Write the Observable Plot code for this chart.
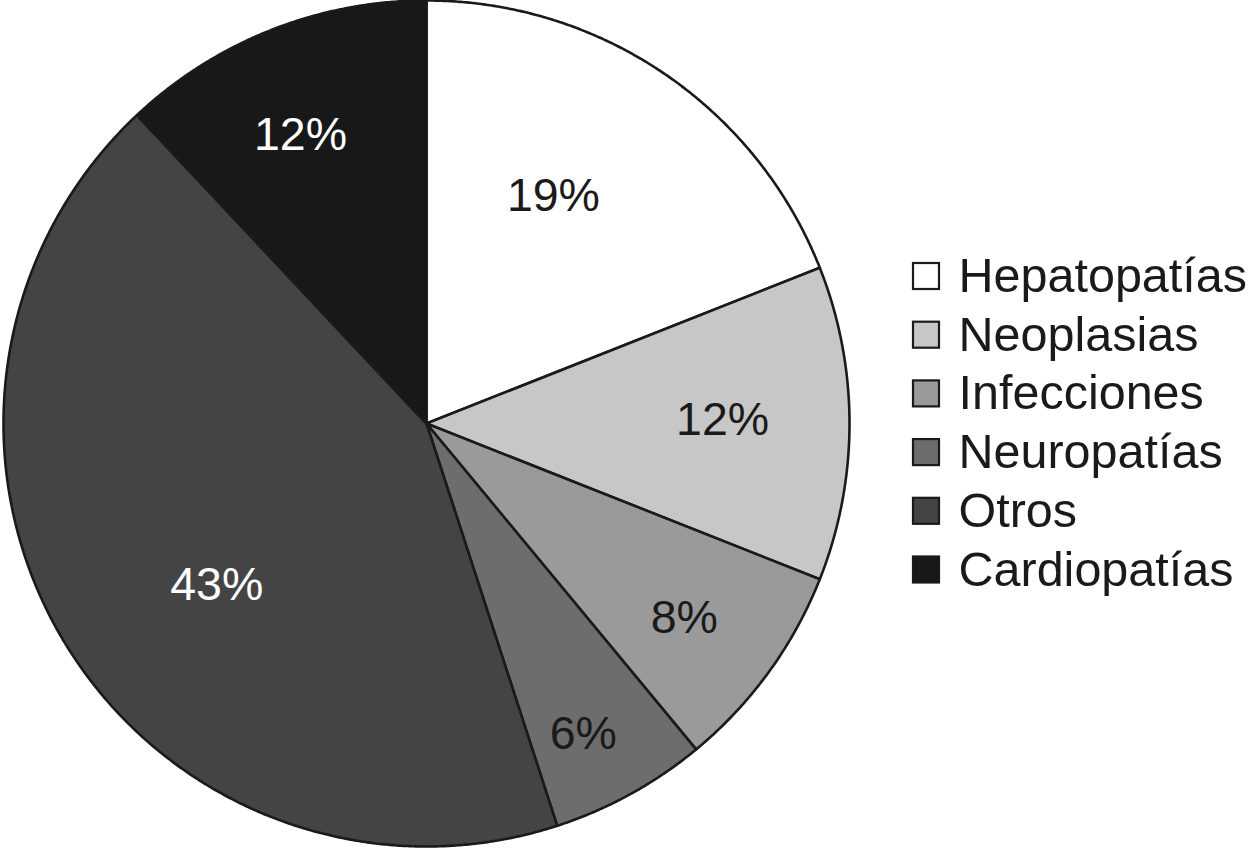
<!DOCTYPE html>
<html>
<head>
<meta charset="utf-8">
<script src="https://cdn.jsdelivr.net/npm/d3@7"></script>
<script src="https://cdn.jsdelivr.net/npm/@observablehq/plot@0.6"></script>
<style>
  html, body { margin: 0; padding: 0; background: #fff; }
  #chart { width: 1250px; height: 848px; }
</style>
</head>
<body>
<div id="chart"></div>
<script>
// ---- Data ----
const categories = ["Hepatopatías", "Neoplasias", "Infecciones", "Neuropatías", "Otros", "Cardiopatías"];
const values = [19, 12, 8, 6, 43, 12];
const labels = ["19%", "12%", "8%", "6%", "43%", "12%"];
const colors = ["#ffffff", "#c7c7c7", "#9a9a9a", "#6d6d6d", "#444444", "#181818"];
const labelColors = ["#1a1a1a", "#1a1a1a", "#1a1a1a", "#1a1a1a", "#ffffff", "#ffffff"];

// ---- Layout ----
const W = 1250, H = 848;
const cx = 426, cy = 423, R = 423;
// label placement (angle offset from slice middle in degrees, radius as fraction of R)
const labelPlacement = [[-5, 0.615], [-0.6, 0.70], [1, 0.763], [2, 0.822], [-7, 0.626], [-2, 0.744]];

const pie = d3.pie().sort(null).value(d => d)(values);
const toXY = (a, r) => [cx + r * Math.sin(a), cy - r * Math.cos(a)];

const slicePts = [];
pie.forEach((p, i) => {
  const name = categories[i];
  slicePts.push({name, x: cx, y: cy});
  const n = Math.max(8, Math.ceil((p.endAngle - p.startAngle) / 0.005));
  for (let k = 0; k <= n; k++) {
    const a = p.startAngle + (p.endAngle - p.startAngle) * k / n;
    const [x, y] = toXY(a, R);
    slicePts.push({name, x, y});
  }
  slicePts.push({name, x: cx, y: cy});
});

const labelData = pie.map((p, i) => {
  const mid = (p.startAngle + p.endAngle) / 2 + labelPlacement[i][0] * Math.PI / 180;
  const [x, y] = toXY(mid, R * labelPlacement[i][1]);
  return {text: labels[i], x, y, color: labelColors[i]};
});

const legX = 913, legSize = 26, legY0 = 276, legStep = 58.7;
const legendData = categories.map((c, i) => ({
  name: c,
  x1: legX, x2: legX + legSize,
  y1: legY0 + i * legStep - legSize / 2, y2: legY0 + i * legStep + legSize / 2,
  tx: legX + legSize + 19, ty: legY0 + i * legStep
}));

const chart = Plot.plot({
  width: W, height: H,
  margin: 0,
  x: {domain: [0, W], range: [0, W], axis: null},
  y: {domain: [0, H], range: [0, H], axis: null},
  color: {domain: categories, range: colors},
  style: {background: "#fff"},
  marks: [
    Plot.line(slicePts, {x: "x", y: "y", z: "name", fill: "name", stroke: "#1a1a1a", strokeWidth: 2.6, strokeLinejoin: "round", curve: "linear"}),
    Plot.text(labelData, {x: "x", y: "y", text: "text", fill: d => d.color, fontSize: 46.5, fontFamily: "Liberation Sans, Arial, sans-serif", textAnchor: "middle"}),
    Plot.rect(legendData, {x1: "x1", x2: "x2", y1: "y1", y2: "y2", fill: "name", stroke: "#1a1a1a", strokeWidth: 2.2}),
    Plot.text(legendData, {x: "tx", y: "ty", text: "name", fill: "#1a1a1a", fontSize: 48.5, fontFamily: "Liberation Sans, Arial, sans-serif", textAnchor: "start"})
  ]
});
document.getElementById("chart").appendChild(chart);
</script>
</body>
</html>
